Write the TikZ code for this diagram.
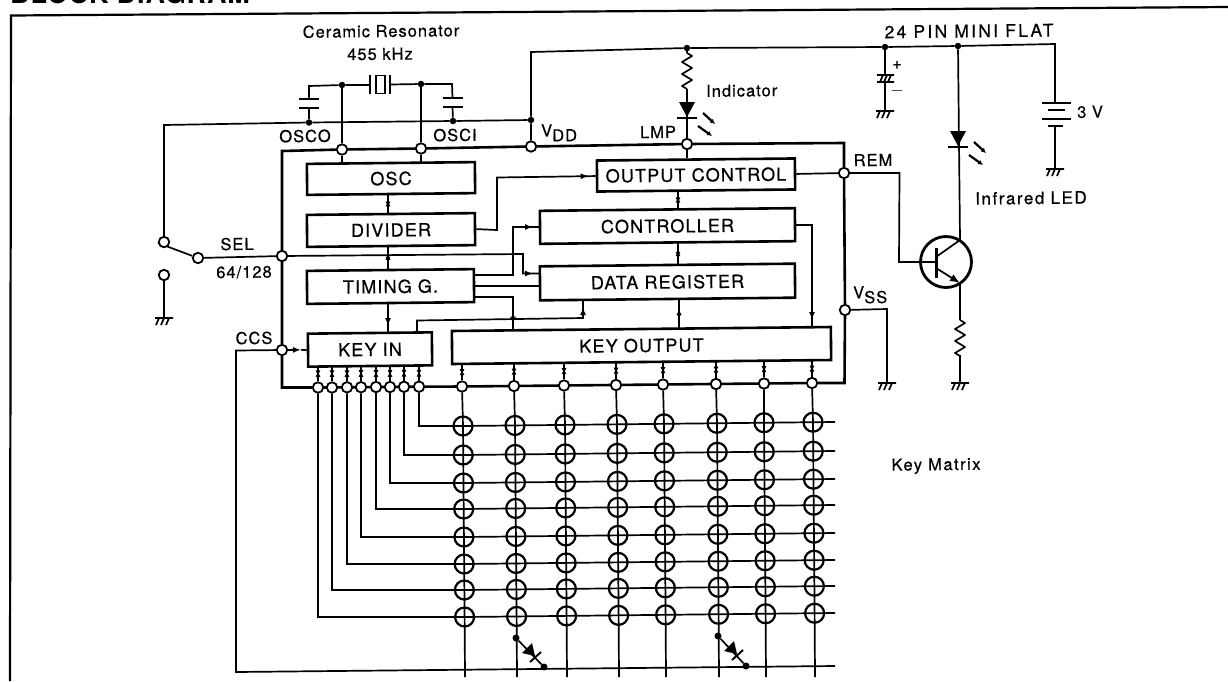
\documentclass[tikz,border=0pt]{standalone}
\usepackage{fontspec}
\setmainfont{TeX Gyre Heros}
\usetikzlibrary{arrows.meta,decorations.markings,calc}
\pgfdeclarelayer{wires}
\pgfsetlayers{wires,main}
\tikzset{
  wire/.style={line width=1.7pt,line join=miter},
  bus/.style={line width=2.6pt,line join=miter},
  boxn/.style={draw,line width=2.6pt,fill=white,inner sep=0pt,rotate=0.6,font=\fontsize{18}{20}\selectfont\addfontfeature{LetterSpace=6.5,FakeBold=0.5}},
  lab/.style={inner sep=0pt,rotate=0.6,font=\fontsize{16.5}{19}\selectfont\addfontfeature{LetterSpace=6,FakeBold=0.5}},
  jn/.style={circle,draw,fill=white,line width=1.8pt,minimum size=10.5pt,inner sep=0pt},
  dotn/.style={circle,fill=black,minimum size=6.5pt,inner sep=0pt},
  xn/.style={circle,draw,line width=2.2pt,minimum size=19pt,inner sep=0pt},
  tipA/.tip={Latex[length=8pt,width=6pt]},
  farr/.style={postaction={decorate},decoration={markings,mark=at position -7pt with {\arrow{tipA}}}},
  darr/.style={postaction={decorate},decoration={markings,
     mark=at position 0.32 with {\arrowreversed{Latex[length=6pt,width=5pt]}},
     mark=at position 0.68 with {\arrow{Latex[length=6pt,width=5pt]}}}},
  gndsym/.pic={\draw[line width=1.7pt] (-9,0)--(9,0) (-5,0)--(-8,7) (0,0)--(-3,7) (5,0)--(2,7);},
  ressym/.pic={\draw[wire,line join=round] (0,0)--(5,3)--(-5,9)--(5,15)--(-5,21)--(5,27)--(-5,33)--(0,36);},
  ledsym/.pic={\fill (-8,-15)--(8,-15)--(0,0)--cycle;
    \draw[line width=1.8pt] (-10,1)--(10,1);
    \draw[line width=2.2pt,-{Latex[length=5pt,width=5pt]}] (16,-4)--(28,7);
    \draw[line width=2.2pt,-{Latex[length=5pt,width=5pt]}] (11,9)--(25,19);},
  diodesym/.pic={\fill (16,5)--(6,15)--(19,18)--cycle;
    \draw[line width=1.9pt] (14,24)--(25,14);},
}
\begin{document}
\begin{tikzpicture}[x=1pt,y=-1pt]
\useasboundingbox (0,0) rectangle (1228,681);
% frame and title
\coordinate (fBL) at (10,681);
\coordinate (fTL) at (11,15.5);
\coordinate (fTR) at (1228,7);
\draw[line width=2.2pt] (fBL)--(fTL)--(fTR);
\node[anchor=base west,inner sep=0pt,font=\bfseries\fontsize{27}{30}\selectfont\addfontfeature{LetterSpace=3}] (title) at (10,3.5) {BLOCK DIAGRAM};
% boxes
\node[boxn,minimum width=168pt,minimum height=31pt] (osc) at (391,178.5) {OSC};
\node[boxn,minimum width=168pt,minimum height=32pt] (div) at (391,230) {DIVIDER};
\node[boxn,minimum width=167pt,minimum height=33pt] (tim) at (390.5,286.5) {TIMING G.};
\node[boxn,minimum width=124pt,minimum height=33pt] (kin) at (370,349.5) {KEY IN};
\node[boxn,minimum width=379pt,minimum height=33pt] (kout) at (641.5,345.5) {KEY OUTPUT};
\node[boxn,minimum width=198pt,minimum height=31pt] (octl) at (696,175) {OUTPUT CONTROL};
\node[boxn,minimum width=255pt,minimum height=33pt] (ctl) at (667.5,226) {CONTROLLER};
\node[boxn,minimum width=255pt,minimum height=34pt] (dreg) at (667.5,282) {DATA REGISTER};
% junctions
\node[jn] (jO) at (342,149.5) {};
\node[jn] (jI) at (421,148.5) {};
\node[jn] (jV) at (531,146.5) {};
\node[jn] (jL) at (687,144) {};
\node[jn] (jR) at (844,173) {};
\node[jn] (jS) at (845,310) {};
\node[jn] (jSel) at (282,256) {};
\node[jn] (jC) at (282,350) {};
\node[jn] (sw1) at (164,242) {};
\node[jn] (sw2) at (198,258) {};
\node[jn] (sw3) at (164,275) {};
\foreach \i/\x/\y in {1/318/387.5,2/332/387.5,3/347/387.3,4/361/387.2,5/376/387,6/390/387,7/404/386.8,8/419/386.7}
  \node[jn] (kp\i) at (\x,\y) {};
\foreach \i/\x/\y in {0/462/386.5,1/514/386,2/564/385.5,3/616/385,4/663/384.5,5/716/384,6/764/383.5,7/812/383}
  \node[jn] (kq\i) at (\x,\y) {};
% dots
\node[dotn] (dA) at (342,85) {};
\node[dotn] (dB) at (421,84) {};
\node[dotn] (dC) at (309,122.5) {};
\node[dotn] (dD) at (453,121) {};
\node[dotn] (dV) at (531,120) {};
\node[dotn] (dL) at (687,48) {};
\node[dotn] (dP) at (885,47) {};
\node[dotn] (dQ) at (958,46) {};
\node[dotn,minimum size=7pt] (dd1) at (516,638) {};
\node[dotn,minimum size=7pt] (dd2) at (544,667) {};
\node[dotn,minimum size=7pt] (dd3) at (718,636) {};
\node[dotn,minimum size=7pt] (dd4) at (746,666) {};
% matrix crossings
\def\colX{{463,515,565,617,664,717,764,813}}
\def\rowY{{426,455,483,509,537,564,590,617}}
\foreach \c in {0,...,7}\foreach \r in {0,...,7}{
  \pgfmathsetmacro{\mx}{\colX[\c]+1.6*\r/7}
  \pgfmathsetmacro{\my}{\rowY[\r]-3.8*\c/7}
  \node[xn] (m\c-\r) at (\mx,\my) {};
}
% transistor
\node[circle,draw,line width=2.8pt,minimum size=51pt,inner sep=0pt] (tr) at (946,262) {};
\coordinate (tB) at (936,262);
\coordinate (tBa) at (936,248);
\coordinate (tBb) at (936,278);
\coordinate (tCi) at (936,257);
\coordinate (tC) at (960,240);
\coordinate (tEi) at (936,268);
\coordinate (tE) at (960,283);
% crystal
\node[draw,line width=1.7pt,fill=white,minimum width=9pt,minimum height=18pt,inner sep=0pt] (xt) at (380.5,84.5) {};
% labels
\node[lab] (lCer) at (381,31) {Ceramic Resonator};
\node[lab] (l455) at (380,54) {455 kHz};
\node[lab] (lOO) at (305,136) {OSCO};
\node[lab] (lOI) at (455,135) {OSCI};
\node[lab,anchor=west] (lVD) at (541,133) {V\raisebox{-5pt}{DD}};
\node[lab] (lLMP) at (658,132) {LMP};
\node[lab,anchor=west] (lInd) at (706,91) {Indicator};
\node[lab,font=\fontsize{17.5}{20}\selectfont\addfontfeature{LetterSpace=13,FakeBold=0.5}] (l24) at (969,31) {24 PIN MINI FLAT};
\node[lab,anchor=west] (l3V) at (1077,112) {3 V};
\node[lab,font=\fontsize{17}{20}\selectfont\addfontfeature{LetterSpace=9,FakeBold=0.5}] (lIR) at (1031,198) {Infrared LED};
\node[lab] (lREM) at (873,160) {REM};
\node[lab,anchor=west] (lVS) at (853,295) {V\raisebox{-5pt}{SS}};
\node[lab] (lSEL) at (237,244) {SEL};
\node[lab] (l64) at (244,272) {64/128};
\node[lab] (lCCS) at (254,338) {CCS};
\node[lab,font=\fontsize{16.5}{19}\selectfont\addfontfeature{LetterSpace=9,FakeBold=0.5}] (lKM) at (936,466) {Key Matrix};
\node[lab] (lPl) at (897,65) {+};
\node[lab] (lMi) at (897,91) {$-$};
\begin{pgfonlayer}{wires}
% power rail and supply return
\draw[bus] (jC)--(282,151)--(jO)--(jI)--(jV)--(jL)--(844,143)--(jR)--(jS)--(844.5,383)--(kq7)--(kq0)--(kp8)--(kp1)--(282,387.5)--(jC);
\draw[wire] (dV)--(dD)--(dC)--(164,125)--(sw1);
\draw[wire] (jV)--(dV)--(531,52)--(dL)--(dP)--(dQ)--(1055,44)--(1055,103);
\draw[wire] (1055,126)--(1055,169);
\draw[line width=2pt] (1042,103)--(1071,103) (1042,119)--(1071,119);
\draw[line width=2.8pt] (1048,110)--(1065,110) (1048,126)--(1063,126);
\pic at (1055,169) {gndsym};
% electrolytic
\draw[wire] (dP)--(885,75) (885,82)--(885,111);
\draw[line width=1.8pt] (877,75)--(894,75) (877,82)--(894,82) (880,82)--(883,75) (884,82)--(887,75) (888,82)--(891,75);
\pic at (885,111) {gndsym};
% LED indicator
\draw[wire] (dL)--(687,53);
\pic at (687,53) {ressym};
\draw[wire] (687,89)--(jL);
\pic at (687,117) {ledsym};
\draw[wire] (jL)--(jL |- octl.north);
% IR LED and transistor
\draw[wire] (dQ)--(tC)--(tCi);
\pic at (958,146) {ledsym};
\draw[wire] (octl.east)--(jR)--(899.5,173)--(899,262)--(tB);
\draw[line width=3pt] (tBa)--(tBb);
\draw[wire,-{Latex[length=10pt,width=8pt]}] (tEi)--(tE);
\draw[wire] (tE)--(960,320);
\pic at (960,320) {ressym};
\draw[wire] (960,355)--(960,383);
\pic at (960,383) {gndsym};
% VSS
\draw[wire] (jS)--(887,309)--(887,383);
\pic at (887,383) {gndsym};
% oscillator
\draw[wire] (dC)--(309,108) (309,99)--(309,86)--(dA)--(370,85);
\draw[wire] (390,84.5)--(dB)--(452,84)--(452.5,98) (452.5,107)--(dD);
\draw[line width=2.2pt] (299,99)--(319,99) (299,108)--(319,108) (443,98)--(463,98) (443,107)--(463,107);
\draw[line width=2pt] (370,75)--(370,94) (390,75)--(390,94);
\draw[wire] (dA)--(jO)--(jO |- osc.north);
\draw[wire] (dB)--(jI)--(jI |- osc.north);
% block interconnect
\draw[wire,darr] (388,194)--(388,214);
\draw[wire,darr] (388,246)--(388,270.5);
\draw[wire,farr] (388,303)--(388,333);
\draw[wire,farr] (div.east)--(497,230)--(497,177.5)--(octl.west);
\draw[wire,darr] (678,190.5)--(678,209.5);
\draw[wire,darr] (678,243)--(678,265);
\draw[wire,darr] (679,299.5)--(679,329);
\draw[wire,farr] (474.5,275)--(513,275)--(513,227)--(540,227);
\draw[wire,farr] (jSel)--(523,254)--(523,273.5)--(540,273.5);
\draw[wire] (474.5,286)--(540,286);
\draw[wire,farr] (474.5,297)--(513,297)--(513,331.5);
\draw[wire,farr] (795,225)--(812,225)--(812,327);
\draw[wire,farr] (417,333)--(417,320.5)--(583,318)--(583,300);
% select switch
\draw[wire] (sw2)--(jSel);
\draw[wire] (158,243)--(sw2);
\draw[wire] (sw3)--(164,318);
\pic at (164,318) {gndsym};
% CCS
\draw[wire,-{Latex[length=8pt,width=6pt]}] (jC.east)--(301,349.8);
\draw[wire] (301,349.8)--(kin.west);
\draw[wire] (jC)--(236,350.5)--(236,672)--(835,666);
% key-in and key-out pins
\foreach \i/\x in {1/318,2/332,3/347,4/361,5/376,6/390,7/404,8/419}
  \draw[wire,darr] (kp\i)--(\x,366);
\foreach \c/\x/\y in {0/462/364,1/514/363.5,2/564/363,3/616/362.5,4/663/362,5/716/361.5,6/764/361,7/812/360.5}
  \draw[wire,darr] (kq\c)--(\x,\y);
% matrix lines
\foreach \i/\r in {1/7,2/6,3/5,4/4,5/3,6/2,7/1,8/0}{
  \pgfmathsetmacro{\ey}{\rowY[\r]-4}
  \draw[wire] (kp\i)--(kp\i |- m0-\r.center)--(m0-\r.center)--(m7-\r.center)--(835,\ey);
}
\foreach \c in {0,...,7}{
  \pgfmathsetmacro{\bx}{\colX[\c]+2}
  \draw[wire] (kq\c)--(m\c-0.center)--(m\c-7.center)--(\bx,677);
}
% key diodes
\draw[wire] (dd1)--(dd2);
\draw[wire] (dd3)--(dd4);
\pic at (dd1) {diodesym};
\pic at (dd3) {diodesym};
\end{pgfonlayer}
\end{tikzpicture}
\end{document}
